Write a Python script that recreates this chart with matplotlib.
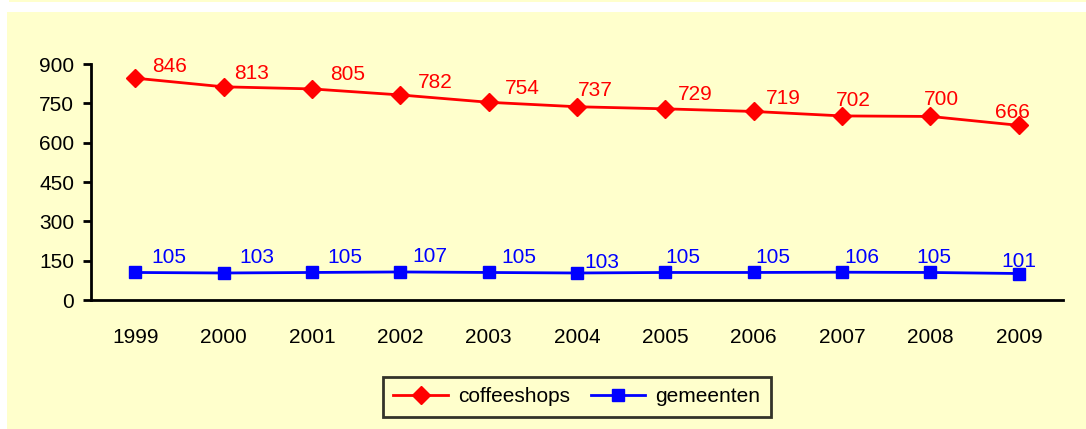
import matplotlib
matplotlib.use("Agg")
import matplotlib.pyplot as plt
from matplotlib.patches import Rectangle

years = ['1999', '2000', '2001', '2002', '2003', '2004', '2005', '2006', '2007', '2008', '2009']
coffeeshops = [846, 813, 805, 782, 754, 737, 729, 719, 702, 700, 666]
gemeenten = [105, 103, 105, 107, 105, 103, 105, 105, 106, 105, 101]

# label offsets in pixels (dx, dy) relative to each point
red_off = [(34, 12), (28, 13), (36, 14), (35, 12), (34, 14), (18, 16),
           (30, 14), (30, 13), (11, 15), (11, 17), (-6, 13)]
blue_off = [(34, 15), (33, 15), (33, 15), (30, 15), (30, 15), (25, 10),
            (18, 15), (19, 15), (20, 15), (3, 15), (0, 12)]

bg = '#FFFFCC'
fs = 15
plt.rcParams['font.family'] = ['Liberation Sans', 'DejaVu Sans']

fig = plt.figure(figsize=(10.86, 4.29), dpi=100, facecolor='white')
fig.patches.append(Rectangle((7 / 1086, 0), 1, 1 - 12 / 429, transform=fig.transFigure,
                             facecolor=bg, edgecolor='none', zorder=-10))
fig.patches.append(Rectangle((9 / 1086, 1 - 2 / 429), 1, 2 / 429, transform=fig.transFigure,
                             facecolor=bg, edgecolor='none', zorder=-10))

ax = fig.add_axes([91 / 1086, 1 - 300 / 429, (1063 - 91) / 1086, (300 - 64) / 429])
ax.set_facecolor('none')
x = list(range(len(years)))

ax.plot(x, coffeeshops, color='red', lw=2, marker='D', markersize=9.5, label='coffeeshops',
        clip_on=False)
ax.plot(x, gemeenten, color='blue', lw=2, marker='s', markersize=9, label='gemeenten',
        clip_on=False)

for xi, v, (dx, dy) in zip(x, coffeeshops, red_off):
    ax.annotate(str(v), (xi, v), xytext=(dx, dy), textcoords='offset pixels',
                ha='center', va='center', color='red', fontsize=fs)
for xi, v, (dx, dy) in zip(x, gemeenten, blue_off):
    ax.annotate(str(v), (xi, v), xytext=(dx, dy), textcoords='offset pixels',
                ha='center', va='center', color='blue', fontsize=fs)

ax.set_xlim(-0.5, len(years) - 0.5)
ax.set_ylim(0, 900)
ax.set_yticks(range(0, 901, 150))
ax.set_xticks(x)
ax.set_xticklabels(years)
ax.tick_params(axis='x', length=0, pad=20, labelsize=fs)
ax.tick_params(axis='y', length=6, width=2, pad=6, labelsize=fs)
for s in ['top', 'right']:
    ax.spines[s].set_visible(False)
for s in ['left', 'bottom']:
    ax.spines[s].set_linewidth(2)

leg = ax.legend(loc='center', bbox_to_anchor=(0.5, -0.41), ncol=2, frameon=True,
                fancybox=False, fontsize=fs, handlelength=2.6, columnspacing=1.0,
                handletextpad=0.5, borderpad=0.5)
leg.get_frame().set_edgecolor('black')
leg.get_frame().set_linewidth(2)
leg.get_frame().set_facecolor(bg)

fig.savefig('out.png', dpi=100, facecolor=fig.get_facecolor())
